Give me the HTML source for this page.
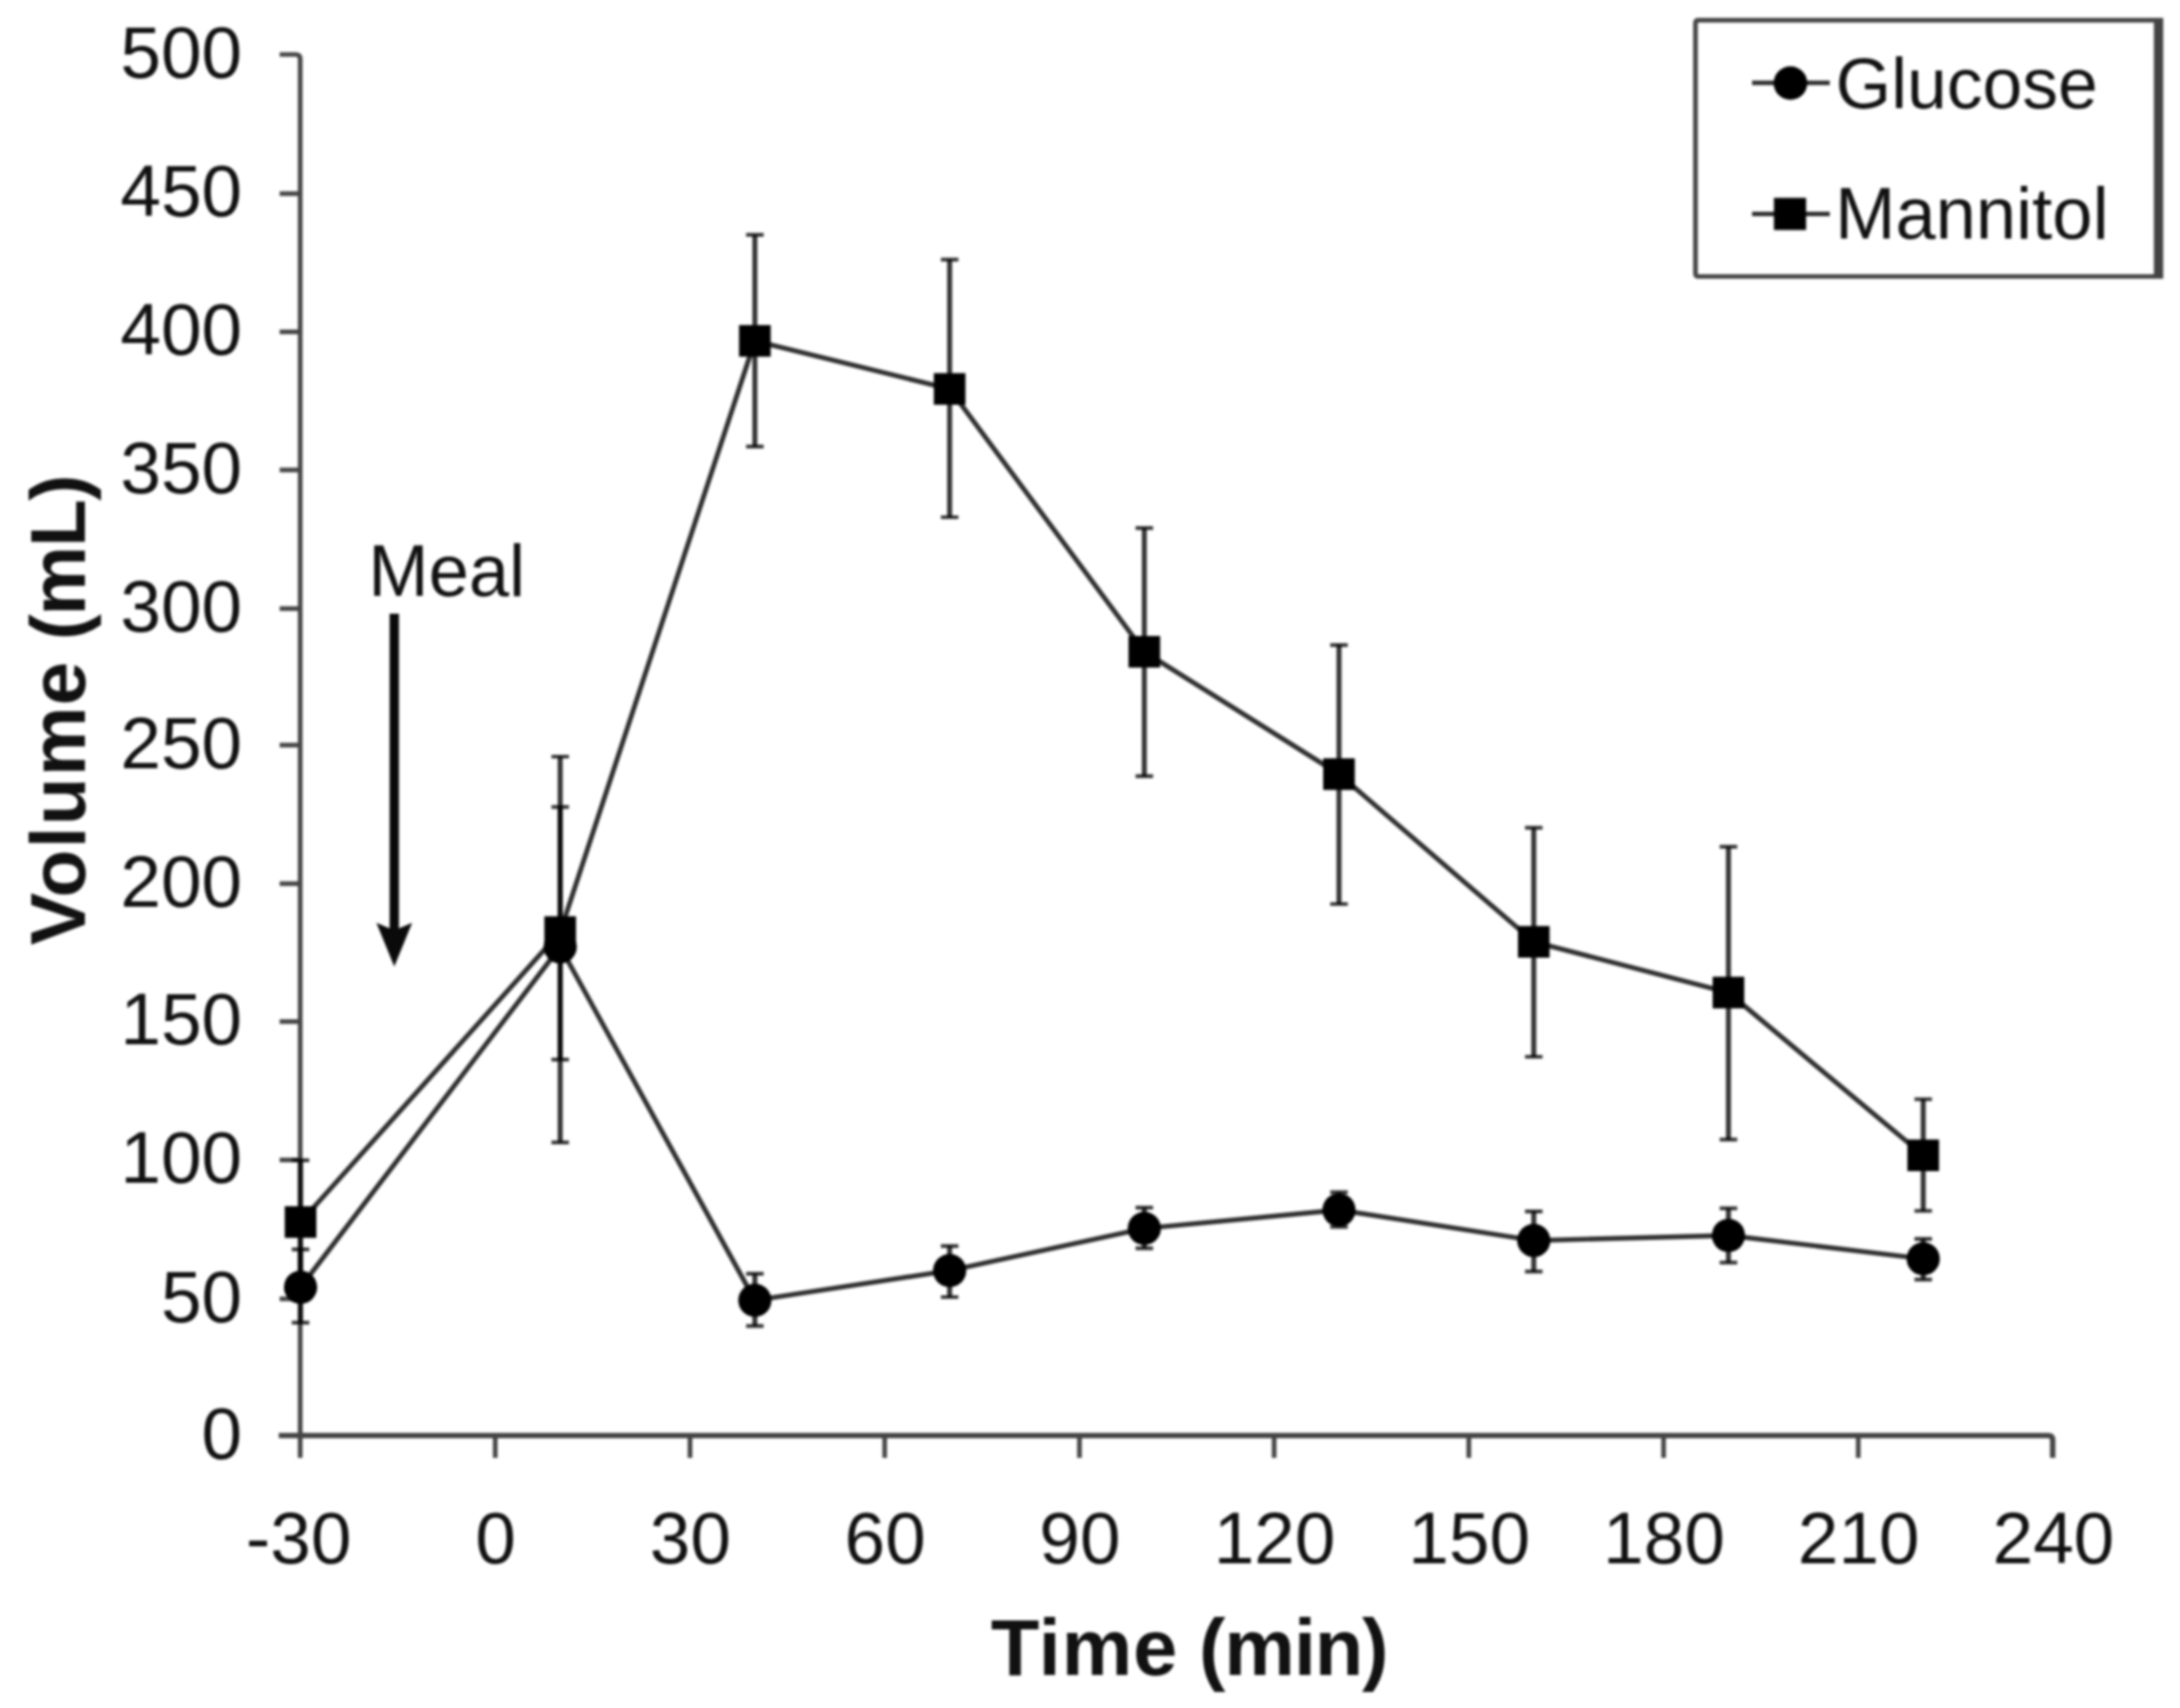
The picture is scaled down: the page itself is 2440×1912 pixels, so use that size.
<!DOCTYPE html>
<html lang="en"><head><meta charset="utf-8"><title>Volume vs Time</title>
<style>html,body{margin:0;padding:0;background:#fff}body{width:2440px;height:1912px;overflow:hidden}svg{display:block;filter:blur(1.7px)}text{font-family:"Liberation Sans",sans-serif;fill:#111}</style>
</head><body>
<svg width="2440" height="1912" viewBox="0 0 2440 1912">
<rect width="2440" height="1912" fill="#fff"/>
<g stroke="#444" stroke-width="5.2" fill="none" stroke-linecap="butt">
<path d="M313 61 H331 Q336 61 336 66 V1632"/>
<path d="M312 1607 H2292.5 Q2297.5 1607 2297.5 1612 V1632" stroke-width="6"/>
<path d="M313 216.8 H336"/>
<path d="M313 371.5 H336"/>
<path d="M313 526.1 H336"/>
<path d="M313 681.3 H336"/>
<path d="M313 834.1 H336"/>
<path d="M313 989.2 H336"/>
<path d="M313 1143.6 H336"/>
<path d="M313 1298.5 H336"/>
<path d="M313 1454.0 H336"/>
<path d="M554.3 1607 V1632"/>
<path d="M772.3 1607 V1632"/>
<path d="M990.2 1607 V1632"/>
<path d="M1208.2 1607 V1632"/>
<path d="M1426.1 1607 V1632"/>
<path d="M1644.0 1607 V1632"/>
<path d="M1862.0 1607 V1632"/>
<path d="M2079.9 1607 V1632"/>
</g>
<g font-size="81.7" text-anchor="end">
<text x="271" y="1632.6">0</text>
<text x="271" y="1479.6">50</text>
<text x="271" y="1324.1">100</text>
<text x="271" y="1169.2">150</text>
<text x="271" y="1014.8">200</text>
<text x="271" y="859.7">250</text>
<text x="271" y="706.9">300</text>
<text x="271" y="551.7">350</text>
<text x="271" y="397.1">400</text>
<text x="271" y="242.4">450</text>
<text x="271" y="86.6">500</text>
</g>
<g font-size="81.7" text-anchor="middle">
<text x="334.4" y="1749.5">-30</text>
<text x="554.8" y="1749.5">0</text>
<text x="772.8" y="1749.5">30</text>
<text x="990.7" y="1749.5">60</text>
<text x="1208.7" y="1749.5">90</text>
<text x="1426.6" y="1749.5">120</text>
<text x="1644.5" y="1749.5">150</text>
<text x="1862.5" y="1749.5">180</text>
<text x="2080.4" y="1749.5">210</text>
<text x="2298.4" y="1749.5">240</text>
</g>
<text x="1109" y="1875" font-size="89" font-weight="bold"><tspan style="letter-spacing:0.85px">Time</tspan><tspan style="letter-spacing:-1.3px"> (min)</tspan></text>
<text transform="translate(94.5 1058) rotate(-90)" font-size="88" font-weight="bold"><tspan style="letter-spacing:1.2px">Volume</tspan><tspan style="letter-spacing:-1.7px"> (mL)</tspan></text>
<text x="500" y="667.4" font-size="81" text-anchor="middle">Meal</text>
<path d="M441.3 687 V1044" stroke="#0a0a0a" stroke-width="10.5" fill="none"/>
<path d="M421.3 1033 L441.3 1041.5 L461.3 1033 L441.3 1082 Z" fill="#0a0a0a"/>
<g stroke="#000" stroke-opacity="0.82" stroke-width="5.4" fill="none" stroke-linejoin="round">
<path d="M336.4 1441.0 L627.0 1060.0 L844.9 1455.6 L1062.9 1422.4 L1280.8 1375.1 L1498.7 1354.5 L1716.7 1388.7 L1934.6 1383.0 L2152.6 1409.1"/>
<path d="M336.4 1368.0 L627.0 1043.4 L844.9 381.6 L1062.9 435.4 L1280.8 729.6 L1498.7 866.6 L1716.7 1054.3 L1934.6 1111.1 L2152.6 1293.3"/>
</g>
<g stroke="#000" stroke-opacity="0.8" fill="none">
<path d="M336.4 1398.7 V1480.7" stroke-width="5.6"/><path d="M326.6 1398.7 H346.2 M326.6 1480.7 H346.2" stroke-width="4.2"/>
<path d="M627.0 847.0 V1278.8" stroke-width="5.6"/><path d="M617.2 847.0 H636.8 M617.2 1278.8 H636.8" stroke-width="4.2"/>
<path d="M844.9 1425.9 V1484.3" stroke-width="5.6"/><path d="M835.1 1425.9 H854.7 M835.1 1484.3 H854.7" stroke-width="4.2"/>
<path d="M1062.9 1394.8 V1452.0" stroke-width="5.6"/><path d="M1053.1 1394.8 H1072.7 M1053.1 1452.0 H1072.7" stroke-width="4.2"/>
<path d="M1280.8 1351.9 V1397.3" stroke-width="5.6"/><path d="M1271.0 1351.9 H1290.6 M1271.0 1397.3 H1290.6" stroke-width="4.2"/>
<path d="M1498.7 1334.7 V1373.3" stroke-width="5.6"/><path d="M1488.9 1334.7 H1508.5 M1488.9 1373.3 H1508.5" stroke-width="4.2"/>
<path d="M1716.7 1356.2 V1423.4" stroke-width="5.6"/><path d="M1706.9 1356.2 H1726.5 M1706.9 1423.4 H1726.5" stroke-width="4.2"/>
<path d="M1934.6 1352.6 V1413.4" stroke-width="5.6"/><path d="M1924.8 1352.6 H1944.4 M1924.8 1413.4 H1944.4" stroke-width="4.2"/>
<path d="M2152.6 1386.9 V1432.4" stroke-width="5.6"/><path d="M2142.8 1386.9 H2162.4 M2142.8 1432.4 H2162.4" stroke-width="4.2"/>
<path d="M336.4 1298.8 V1437.0" stroke-width="5.6"/><path d="M326.6 1298.8 H346.2 M326.6 1437.0 H346.2" stroke-width="4.2"/>
<path d="M627.0 903.3 V1186.2" stroke-width="5.6"/><path d="M617.2 903.3 H636.8 M617.2 1186.2 H636.8" stroke-width="4.2"/>
<path d="M844.9 262.9 V499.8" stroke-width="5.6"/><path d="M835.1 262.9 H854.7 M835.1 499.8 H854.7" stroke-width="4.2"/>
<path d="M1062.9 290.7 V579.0" stroke-width="5.6"/><path d="M1053.1 290.7 H1072.7 M1053.1 579.0 H1072.7" stroke-width="4.2"/>
<path d="M1280.8 591.2 V868.9" stroke-width="5.6"/><path d="M1271.0 591.2 H1290.6 M1271.0 868.9 H1290.6" stroke-width="4.2"/>
<path d="M1498.7 722.1 V1012.0" stroke-width="5.6"/><path d="M1488.9 722.1 H1508.5 M1488.9 1012.0 H1508.5" stroke-width="4.2"/>
<path d="M1716.7 926.6 V1183.0" stroke-width="5.6"/><path d="M1706.9 926.6 H1726.5 M1706.9 1183.0 H1726.5" stroke-width="4.2"/>
<path d="M1934.6 947.9 V1275.7" stroke-width="5.6"/><path d="M1924.8 947.9 H1944.4 M1924.8 1275.7 H1944.4" stroke-width="4.2"/>
<path d="M2152.6 1230.5 V1355.5" stroke-width="5.6"/><path d="M2142.8 1230.5 H2162.4 M2142.8 1355.5 H2162.4" stroke-width="4.2"/>
</g>
<g fill="#000">
<circle cx="336.4" cy="1441.0" r="18.6"/>
<circle cx="627.0" cy="1060.0" r="18.6"/>
<circle cx="844.9" cy="1455.6" r="18.6"/>
<circle cx="1062.9" cy="1422.4" r="18.6"/>
<circle cx="1280.8" cy="1375.1" r="18.6"/>
<circle cx="1498.7" cy="1354.5" r="18.6"/>
<circle cx="1716.7" cy="1388.7" r="18.6"/>
<circle cx="1934.6" cy="1383.0" r="18.6"/>
<circle cx="2152.6" cy="1409.1" r="18.6"/>
<rect x="318.7" y="1350.3" width="35.4" height="35.4"/>
<rect x="609.3" y="1025.7" width="35.4" height="35.4"/>
<rect x="827.2" y="363.9" width="35.4" height="35.4"/>
<rect x="1045.2" y="417.7" width="35.4" height="35.4"/>
<rect x="1263.1" y="711.9" width="35.4" height="35.4"/>
<rect x="1481.0" y="848.9" width="35.4" height="35.4"/>
<rect x="1699.0" y="1036.6" width="35.4" height="35.4"/>
<rect x="1916.9" y="1093.4" width="35.4" height="35.4"/>
<rect x="2134.9" y="1275.6" width="35.4" height="35.4"/>
</g>
<path d="M2412 22.7 H1901 Q1897.7 22.7 1897.7 26 V306 Q1897.7 309.5 1901 309.5 H2412" stroke="#444" stroke-width="5.2" fill="none"/>
<path d="M2416 20 V312" stroke="#444" stroke-width="10.5" fill="none"/>
<g stroke="#2b2b2b" stroke-width="5" fill="none"><path d="M1961 92.8 H2048"/><path d="M1961 239.5 H2048"/></g>
<circle cx="2004" cy="93" r="18.8" fill="#000"/>
<rect x="1985.5" y="221.5" width="36" height="36" fill="#000"/>
<text x="2054.5" y="121" font-size="80">Glucose</text>
<text x="2054" y="266.5" font-size="81">Mannitol</text>
</svg></body></html>
